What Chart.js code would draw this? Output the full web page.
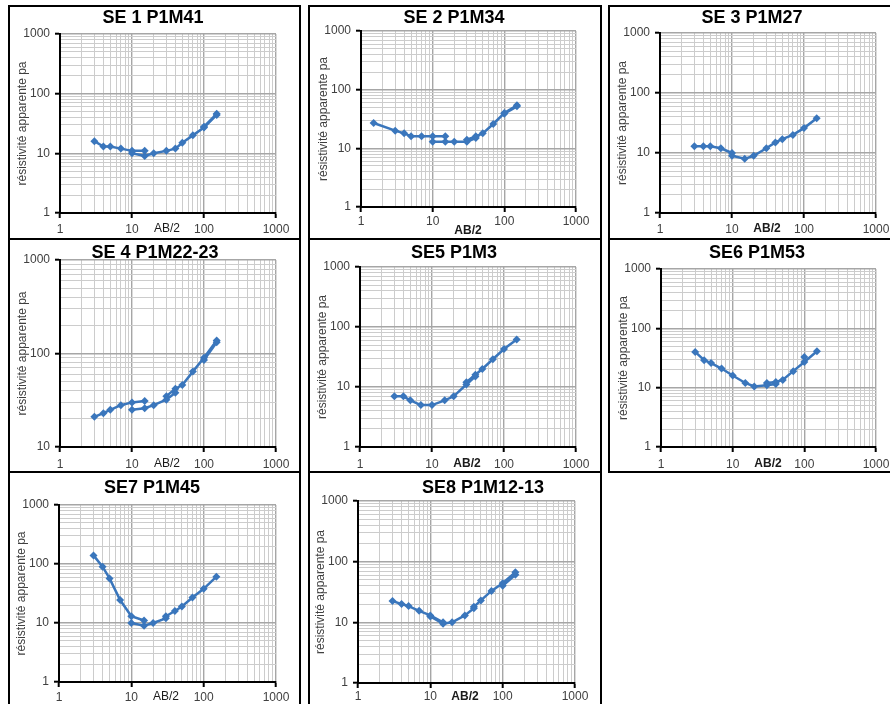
<!DOCTYPE html>
<html>
<head>
<meta charset="utf-8">
<script src="https://cdn.jsdelivr.net/npm/chart.js@4.4.1/dist/chart.umd.min.js"></script>
<style>
  html, body { margin:0; padding:0; background:#fff; overflow:hidden; }
  body { width:890px; height:704px; position:relative; }
  .cell { position:absolute; border:2px solid #000; box-sizing:border-box; z-index:2; }
  canvas { position:absolute; z-index:1; }
</style>
</head>
<body>
<script>
// AB/2 (m) et résistivité apparente, null = nouveau segment (changement de MN)
const se1Ab  = [3, 4, 5, 7, 10, 15, null, 10, 15, 20, 30, 40, 50, 70, 100, 150, null, 100, 150];
const se1Rho = [16, 13, 13, 12, 11, 11, null, 10, 9, 10, 11, 12, 15, 20, 27, 44, null, 28, 46];

const se2Ab  = [1.5, 3, 4, 5, 7, 10, 15, null, 10, 15, 20, 30, 40, null, 30, 40, 50, 70, 100, 150, null, 100, 150];
const se2Rho = [27, 20, 18, 16, 16, 16, 16, null, 13, 13, 13, 13, 15, null, 14, 16, 18, 26, 40, 54, null, 39, 52];

const se3Ab  = [3, 4, 5, 7, 10, null, 10, 15, 20, 30, 40, 50, 70, 100, 150];
const se3Rho = [13, 13, 13, 12, 10, null, 9, 8, 9, 12, 15, 17, 20, 26, 38];

const se4Ab  = [3, 4, 5, 7, 10, 15, null, 10, 15, 20, 30, 40, null, 30, 40, 50, 70, 100, 150, null, 100, 150];
const se4Rho = [21, 23, 25, 28, 30, 31, null, 25, 26, 28, 32, 38, null, 35, 42, 46, 64, 90, 138, null, 85, 132];

const se5Ab  = [3, 4, 5, 7, 10, 15, 20, 30, 40, null, 30, 40, 50, 70, 100, 150];
const se5Rho = [7, 7, 6, 5, 5, 6, 7, 11, 15, null, 12, 16, 20, 29, 43, 62];

const se6Ab  = [3, 4, 5, 7, 10, 15, 20, 30, 40, null, 30, 40, 50, 70, 100, 150, null, 100];
const se6Rho = [40, 29, 26, 21, 16, 12, 10.5, 11, 11.5, null, 12, 12.5, 13.5, 19, 27, 41, null, 33];

const se7Ab  = [3, 4, 5, 7, 10, 15, null, 10, 15, 20, 30, null, 30, 40, 50, 70, 100, 150];
const se7Rho = [140, 90, 57, 24.5, 13, 11, null, 10, 9, 10, 12, null, 13, 16, 19, 27, 38, 61];

const se8Ab  = [3, 4, 5, 7, 10, 15, null, 10, 15, 20, 30, 40, null, 40, 50, 70, 100, 150, null, 100, 150];
const se8Rho = [22.5, 20, 18.5, 15.5, 13, 10, null, 12.5, 9.5, 10, 13, 17, null, 18, 23, 33, 44, 67, null, 40, 61];

const decadeLabels = [1, 10, 100, 1000];
const yTitle = 'résistivité apparente pa';
const xTitle = 'AB/2';

const lineBlue = '#3a76bc';
const fontFam = '"Liberation Sans", Arial, sans-serif';

// cadres des cellules
const cells = [
  [8, 5, 293, 235], [308, 5, 294, 235], [608, 5, 290, 235],
  [8, 238, 293, 235], [308, 238, 294, 235], [608, 238, 290, 235],
  [8, 471, 293, 240], [308, 471, 294, 240]
];
cells.forEach(c => {
  const d = document.createElement('div');
  d.className = 'cell';
  d.style.left = c[0] + 'px'; d.style.top = c[1] + 'px';
  d.style.width = c[2] + 'px'; d.style.height = c[3] + 'px';
  document.body.appendChild(d);
});

const panels = [
  { title: 'SE 1 P1M41',    ab: se1Ab, rho: se1Rho, yMin: 1,  box: [60, 34, 276, 213],  t: [153, 18],  abBold: false, abY: 229, gap: 16.5 },
  { title: 'SE 2 P1M34',    ab: se2Ab, rho: se2Rho, yMin: 1,  box: [361, 31, 576, 207], t: [454, 18],  abBold: true,  abY: 230.5, gap: 14.5 },
  { title: 'SE 3 P1M27',    ab: se3Ab, rho: se3Rho, yMin: 1,  box: [660, 33, 876, 213], t: [752, 18],  abBold: true,  abY: 229, gap: 16.5 },
  { title: 'SE 4 P1M22-23', ab: se4Ab, rho: se4Rho, yMin: 10, box: [60, 260, 276, 447], t: [155, 253], abBold: false, abY: 464, gap: 17.5 },
  { title: 'SE5 P1M3',      ab: se5Ab, rho: se5Rho, yMin: 1,  box: [360, 267, 576, 447], t: [454, 253], abBold: true, abY: 464, gap: 17.5 },
  { title: 'SE6 P1M53',     ab: se6Ab, rho: se6Rho, yMin: 1,  box: [661, 269, 876, 447], t: [757, 253], abBold: true, abY: 464, gap: 17.5 },
  { title: 'SE7 P1M45',     ab: se7Ab, rho: se7Rho, yMin: 1,  box: [59, 505, 276, 682], t: [152, 488], abBold: false, abY: 697, gap: 15.5 },
  { title: 'SE8 P1M12-13',  ab: se8Ab, rho: se8Rho, yMin: 1,  box: [358, 501, 575, 683], t: [483, 488], abBold: true, abY: 696.5, gap: 13.5 }
];

function splitSegments(xs, ys) {
  const out = [];
  let cur = [];
  xs.forEach((x, i) => {
    if (x === null) { if (cur.length) out.push(cur); cur = []; return; }
    cur.push({ x: x, y: ys[i] });
  });
  if (cur.length) out.push(cur);
  return out;
}

function logTicks(min, max) {
  const v = [];
  for (let d = min; d < max; d *= 10) {
    for (let m = 1; m < 10; m++) v.push(Math.round(m * d));
  }
  v.push(max);
  return v;
}

const isDecade = c => c.tick && decadeLabels.includes(c.tick.value);

const panelText = {
  id: 'panelText',
  afterDraw(chart, args, o) {
    const c = chart.ctx;
    c.save();
    c.textAlign = 'center';
    c.textBaseline = 'middle';
    c.fillStyle = '#000';
    c.font = 'bold 18px ' + fontFam;
    c.fillText(o.title, o.tx, o.ty);
    c.fillStyle = '#1a1a1a';
    c.font = (o.abBold ? 'bold ' : '') + '12px ' + fontFam;
    c.fillText(xTitle, o.ax, o.ay);
    c.restore();
  }
};
Chart.register(panelText);

panels.forEach(p => {
  const [L, T, R, B] = p.box;
  const padL = 60, padT = 40, padR = 30, padB = 40;
  const cv = document.createElement('canvas');
  cv.width = R - L + padL + padR;
  cv.height = B - T + padT + padB;
  const ox = L - padL, oy = T - padT;
  cv.style.left = ox + 'px';
  cv.style.top = oy + 'px';
  document.body.appendChild(cv);

  const gridOpts = {
    color: c => isDecade(c) ? '#a6a6a6' : '#cccccc',
    lineWidth: c => isDecade(c) ? 1.4 : 1,
    tickColor: c => isDecade(c) ? '#000' : 'rgba(0,0,0,0)',
    tickWidth: 2,
    tickLength: 5
  };

  new Chart(cv, {
    type: 'scatter',
    data: {
      datasets: splitSegments(p.ab, p.rho).map(seg => ({
        data: seg,
        showLine: true,
        borderColor: lineBlue,
        backgroundColor: lineBlue,
        borderWidth: 2.5,
        pointStyle: 'rectRot',
        pointRadius: 4,
        pointBorderWidth: 0
      }))
    },
    options: {
      responsive: false,
      animation: false,
      devicePixelRatio: 1,
      layout: { padding: { left: 0, top: padT, right: padR, bottom: 0 } },
      plugins: {
        legend: { display: false },
        tooltip: { enabled: false },
        panelText: { title: p.title, tx: p.t[0] - ox, ty: p.t[1] - oy, abBold: p.abBold, ax: L + 107 - ox, ay: p.abY - oy }
      },
      scales: {
        x: {
          type: 'logarithmic',
          min: 1, max: 1000,
          afterFit: s => { s.height = padB; },
          afterBuildTicks: s => { s.ticks = logTicks(1, 1000).map(v => ({ value: v })); },
          ticks: {
            autoSkip: false, maxRotation: 0,
            padding: Math.max(0, p.gap - 12.2),
            color: '#404040',
            font: { family: fontFam, size: 12 },
            callback: v => decadeLabels.includes(v) ? String(v) : ''
          },
          grid: gridOpts,
          border: { color: '#000', width: 2 }
        },
        y: {
          type: 'logarithmic',
          min: p.yMin, max: 1000,
          afterFit: s => { s.width = padL; },
          afterBuildTicks: s => { s.ticks = logTicks(p.yMin, 1000).map(v => ({ value: v })); },
          ticks: {
            autoSkip: false,
            padding: 5,
            color: '#404040',
            font: { family: fontFam, size: 12 },
            callback: v => decadeLabels.includes(v) ? String(v) : ''
          },
          title: {
            display: true, text: yTitle, color: '#404040',
            font: { family: fontFam, size: 12 },
            padding: { top: 15, bottom: 0 }
          },
          grid: gridOpts,
          border: { color: '#000', width: 2 }
        }
      }
    }
  });
});
</script>
</body>
</html>
